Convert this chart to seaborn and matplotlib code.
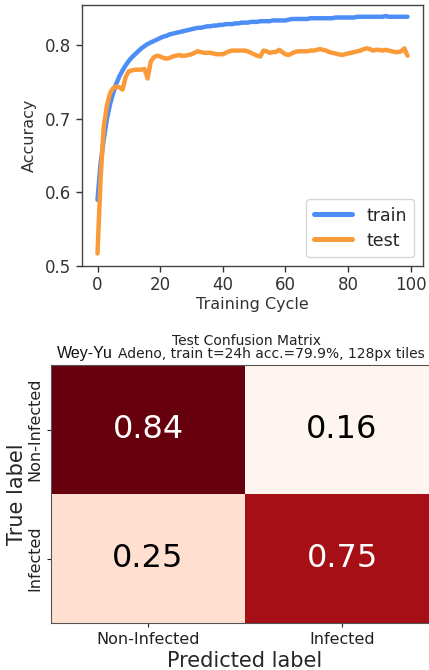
import numpy as np
import pandas as pd
import matplotlib
matplotlib.use("Agg")
import matplotlib.pyplot as plt
import seaborn as sns

# Per-cycle accuracy of the tile classifier
train_acc = [
    0.590, 0.640, 0.672, 0.700, 0.720, 0.735, 0.748, 0.758, 0.766, 0.773,
    0.779, 0.784, 0.788, 0.792, 0.796, 0.799, 0.802, 0.804, 0.806, 0.808,
    0.810, 0.812, 0.813, 0.815, 0.816, 0.817, 0.818, 0.819, 0.820, 0.821,
    0.822, 0.823, 0.824, 0.824, 0.825, 0.826, 0.826, 0.827, 0.827, 0.828,
    0.828, 0.829, 0.829, 0.829, 0.830, 0.830, 0.831, 0.831, 0.831, 0.832,
    0.832, 0.832, 0.833, 0.833, 0.833, 0.833, 0.834, 0.834, 0.834, 0.834,
    0.834, 0.835, 0.836, 0.836, 0.836, 0.836, 0.836, 0.836, 0.837, 0.837,
    0.837, 0.837, 0.837, 0.837, 0.837, 0.837, 0.838, 0.838, 0.838, 0.838,
    0.838, 0.838, 0.838, 0.839, 0.839, 0.839, 0.839, 0.839, 0.839, 0.839,
    0.839, 0.839, 0.840, 0.839, 0.839, 0.839, 0.839, 0.839, 0.839, 0.839,
]
test_acc = [
    0.517, 0.620, 0.690, 0.718, 0.735, 0.742, 0.744, 0.743, 0.740, 0.757,
    0.765, 0.766, 0.767, 0.767, 0.767, 0.768, 0.755, 0.778, 0.784, 0.786,
    0.785, 0.783, 0.782, 0.783, 0.785, 0.786, 0.787, 0.786, 0.786, 0.787,
    0.788, 0.790, 0.792, 0.791, 0.790, 0.790, 0.790, 0.789, 0.788, 0.788,
    0.788, 0.790, 0.792, 0.793, 0.793, 0.793, 0.793, 0.793, 0.792, 0.790,
    0.788, 0.786, 0.785, 0.793, 0.792, 0.790, 0.791, 0.791, 0.794, 0.791,
    0.788, 0.787, 0.789, 0.791, 0.792, 0.792, 0.792, 0.792, 0.793, 0.793,
    0.794, 0.795, 0.794, 0.793, 0.791, 0.790, 0.789, 0.788, 0.787, 0.788,
    0.789, 0.790, 0.791, 0.792, 0.793, 0.795, 0.796, 0.795, 0.793, 0.794,
    0.794, 0.793, 0.794, 0.793, 0.792, 0.791, 0.791, 0.792, 0.796, 0.786,
]
cycles = list(range(len(train_acc)))

# Normalised confusion matrix (rows: true label, columns: predicted label)
class_names = ["Non-Infected", "Infected"]
cm_row_noninfected = [0.84, 0.16]
cm_row_infected = [0.25, 0.75]

series_names = ["train", "test"]
series_colors = ["#4d8ef6", "#fb9a38"]

sns.set_style("white")
plt.rcParams["font.family"] = ["DejaVu Sans"]

W, H = 429, 670
fig = plt.figure(figsize=(W / 100, H / 100), dpi=100)


def px_rect(left, top, right, bottom):
    return [left / W, 1 - bottom / H, (right - left) / W, (bottom - top) / H]


# ---- training curves ----
ax1 = fig.add_axes(px_rect(82, 5, 423, 266))
df = pd.DataFrame({
    "cycle": cycles * 2,
    "acc": train_acc + test_acc,
    "set": [series_names[0]] * len(train_acc) + [series_names[1]] * len(test_acc),
})
sns.lineplot(data=df, x="cycle", y="acc", hue="set", palette=series_colors,
             linewidth=3.2, ax=ax1)
ax1.set_xlim(-4.95, 103.95)
ax1.set_ylim(0.5, 0.855)
ax1.set_yticks([0.5, 0.6, 0.7, 0.8])
ax1.set_xticks([0, 20, 40, 60, 80, 100])
ax1.set_xlabel("Training Cycle", fontsize=11.5, color="#333333", labelpad=2)
ax1.set_ylabel("Accuracy", fontsize=11.5, color="#333333", labelpad=6)
ax1.tick_params(axis="both", labelsize=12, colors="#333333", length=4,
                width=1, direction="out", left=True, bottom=True)
for sp in ax1.spines.values():
    sp.set_color("#444444")
    sp.set_linewidth(1.0)
leg = ax1.legend(loc="lower right", fontsize=12.5, handlelength=2.2,
                 frameon=True, borderpad=0.45, labelspacing=0.4,
                 handletextpad=0.8)
leg.set_title(None)
for line in leg.get_lines():
    line.set_linewidth(3.6)

# ---- confusion matrix ----
ax2 = fig.add_axes(px_rect(51, 365, 439, 623))
cm = np.array([cm_row_noninfected, cm_row_infected])
sns.heatmap(cm, annot=True, fmt=".2f", cmap="Reds", cbar=False, ax=ax2,
            annot_kws={"size": 23}, xticklabels=class_names,
            yticklabels=class_names)
for txt in ax2.texts:
    txt.set_color("white" if txt.get_text() in ("0.84", "0.75") else "black")
for sp in ax2.spines.values():
    sp.set_visible(True)
    sp.set_color("#555555")
    sp.set_linewidth(0.8)
ax2.tick_params(axis="both", labelsize=11.5, colors="#222222", length=3,
                width=0.8, left=True, bottom=True)
plt.setp(ax2.get_yticklabels(), rotation=90, va="center")
plt.setp(ax2.get_xticklabels(), rotation=0)
ax2.set_xlabel("Predicted label", fontsize=15, labelpad=3)
ax2.set_ylabel("True label", fontsize=15, labelpad=0)

fig.text(246 / W, 1 - 345 / H, "Test Confusion Matrix", fontsize=10,
         ha="center", va="baseline", color="#222222")
fig.text(118 / W, 1 - 358 / H, "Adeno, train t=24h acc.=79.9%, 128px tiles",
         fontsize=10, ha="left", va="baseline", color="#222222")
fig.text(57 / W, 1 - 358 / H, "Wey-Yu", fontsize=11.5,
         family="Liberation Sans", ha="left", va="baseline", color="#111111")

fig.savefig("out.png", dpi=100)
